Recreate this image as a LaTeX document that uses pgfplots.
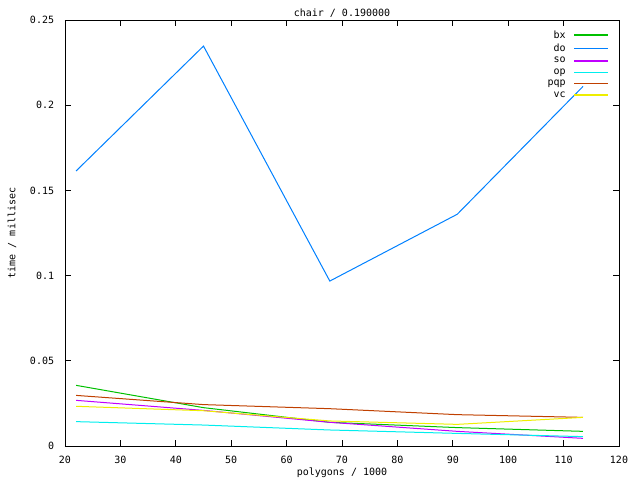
\documentclass[border=0pt]{standalone}
\usepackage{pgfplots}
\pgfplotsset{compat=1.18}
\usepackage{fontspec}
\setmainfont{DejaVu Sans Mono}
\definecolor{gbx}{RGB}{0,192,0}
\definecolor{gdo}{RGB}{0,128,255}
\definecolor{gso}{RGB}{192,0,255}
\definecolor{gop}{RGB}{0,238,238}
\definecolor{gpqp}{RGB}{192,64,0}
\definecolor{gvc}{RGB}{238,238,0}
\begin{document}
\fontsize{7.5}{8.5}\selectfont
\begin{tikzpicture}[x=0.75pt,y=0.75pt]
\begin{axis}[
  scale only axis,
  width=415.5pt, height=319.5pt,
  xmin=20, xmax=120, ymin=0, ymax=0.25,
  xtick={20,30,...,120},
  ytick={0,0.05,0.1,0.15,0.2,0.25},
  yticklabels={0,0.05,0.1,0.15,0.2,0.25},
  xticklabels={20,30,40,50,60,70,80,90,100,110,120},
  tick align=inside,
  major tick length=4.5pt,
  tick style={black, line width=0.5pt},
  axis line style={line width=0.5pt},
  scaled y ticks=false,
  ticklabel style={font=\fontsize{7.5}{8.5}\selectfont},
  xticklabel style={yshift=-4.5pt},
  yticklabel style={xshift=-5.5pt},
  title={chair / 0.190000},
  every axis title shift=0pt,
  title style={at={(axis description cs:0.5,1)}, anchor=base, inner sep=0pt, yshift=2.5pt, font=\fontsize{7.5}{8.5}\selectfont},
  xlabel={polygons / 1000},
  ylabel={time / millisec},
  xlabel style={at={([yshift=-20.25pt]axis description cs:0.5,0)}, anchor=center, inner sep=0pt, font=\fontsize{7.5}{8.5}\selectfont},
  ylabel style={at={([xshift=-39.75pt]axis description cs:0,0.5)}, anchor=center, inner sep=0pt, font=\fontsize{7.5}{8.5}\selectfont},
  legend cell align=right,
  legend plot pos=right,
  legend style={draw=none, fill=none, at={(0.985,0.985)}, anchor=north east,
    font=\fontsize{7.5}{8.5}\selectfont, row sep=-0.8pt, inner sep=1pt,
    /tikz/every odd column/.append style={column sep=4pt}},
  legend image code/.code={\draw[#1, line width=1.1pt] (0pt,0pt) -- (25.5pt,0pt);},
  every axis plot/.append style={line width=0.75pt},
]
\addplot[gbx] coordinates {(22,0.0356) (45,0.0225) (67.8,0.0139) (90.8,0.0108) (113.5,0.0086)};
\addlegendentry{bx}
\addplot[gdo] coordinates {(22,0.1614) (45,0.2347) (67.8,0.0968) (90.8,0.1360) (113.5,0.2110)};
\addlegendentry{do}
\addplot[gso] coordinates {(22,0.0268) (45,0.0209) (67.8,0.0139) (90.8,0.0086) (113.5,0.0045)};
\addlegendentry{so}
\addplot[gop] coordinates {(22,0.0143) (45,0.0123) (67.8,0.0094) (90.8,0.0074) (113.5,0.0055)};
\addlegendentry{op}
\addplot[gpqp] coordinates {(22,0.0297) (45,0.0243) (67.8,0.0219) (90.8,0.0184) (113.5,0.0168)};
\addlegendentry{pqp}
\addplot[gvc] coordinates {(22,0.0233) (45,0.0207) (67.8,0.0147) (90.8,0.0127) (113.5,0.0168)};
\addlegendentry{vc}
\end{axis}
\path (current axis.south west) ++(-48.75pt,-25.5pt) rectangle ++(480pt,360pt);
\useasboundingbox (current axis.south west) ++(-48.75pt,-25.5pt) rectangle ++(480pt,360pt);
\end{tikzpicture}
\end{document}
